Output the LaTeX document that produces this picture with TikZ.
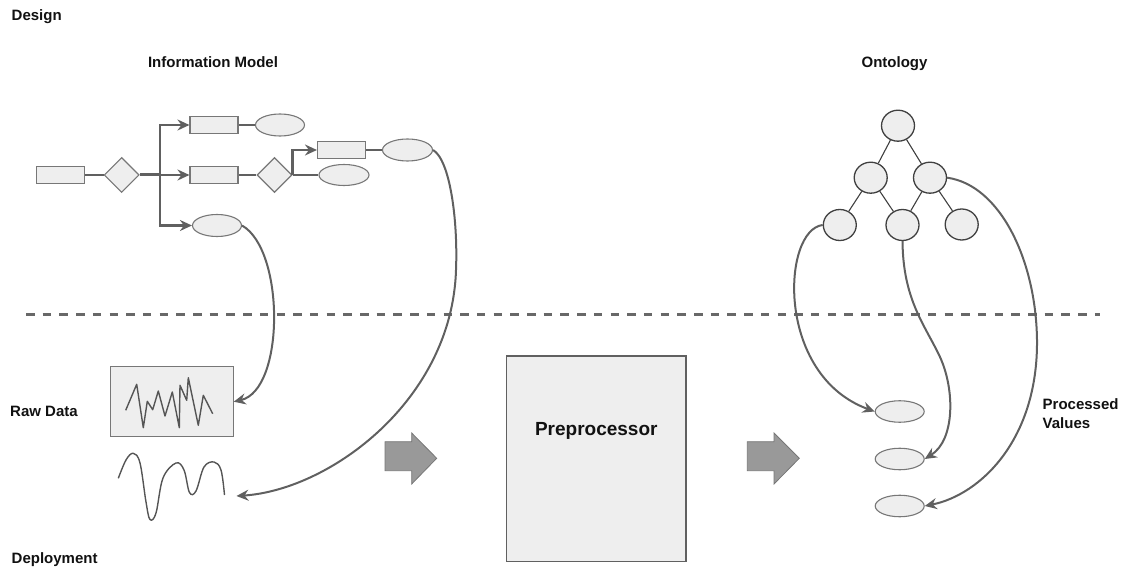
\documentclass[tikz,border=0pt]{standalone}
\usepackage{fontspec}
\setmainfont{Liberation Sans}
\usetikzlibrary{shapes.geometric,arrows.meta}
\definecolor{shapefill}{HTML}{EEEEEE}
\definecolor{rimgray}{HTML}{777777}
\definecolor{linkgray}{HTML}{606060}
\definecolor{treegray}{HTML}{404040}
\definecolor{blockfill}{HTML}{999999}
\definecolor{inkgray}{HTML}{555555}
\definecolor{labelink}{HTML}{111111}
\begin{document}
\begin{tikzpicture}[x=1pt,y=-1pt,
  box/.style={draw=rimgray, fill=shapefill, line width=1.1pt, minimum width=48pt, minimum height=17pt, inner sep=0pt},
  oval/.style={ellipse, draw=rimgray, fill=shapefill, line width=1.1pt, minimum width=49pt, minimum height=22pt, inner sep=0pt},
  choice/.style={diamond, draw=rimgray, fill=shapefill, line width=1.1pt, minimum width=35pt, minimum height=35pt, inner sep=0pt},
  concept/.style={ellipse, draw=treegray, fill=shapefill, line width=1.3pt, minimum width=33pt, minimum height=31pt, inner sep=0pt},
  result/.style={ellipse, draw=rimgray, fill=shapefill, line width=1.1pt, minimum width=49pt, minimum height=21.5pt, inner sep=0pt},
  link/.style={draw=linkgray, line width=2.3pt},
  flow/.style={link, -{Stealth[length=12pt,width=11pt,inset=4pt]}},
  arc/.style={draw=linkgray, line width=2pt, -{Stealth[length=12pt,width=11pt,inset=4pt]}},
  tree/.style={draw=treegray, line width=1.1pt},
  divider/.style={draw=linkgray!95, line width=2.3pt, dash pattern=on 8.5pt off 8.2pt},
  blockarrow/.style={fill=blockfill, draw=rimgray, line width=0.8pt},
  label/.style={font=\fontsize{15}{18}\selectfont\bfseries, text=labelink, inner sep=0pt},
  trace/.style={draw=inkgray, line width=1.4pt, line join=round}
]
\path[use as bounding box] (0,0) rectangle (1127,569);

% section labels
\node[label, anchor=base west] (design) at (11.5,20.5) {Design};
\node[label, anchor=base west] (deploy) at (11.5,563) {Deployment};
\node[label, anchor=base west] (rawlbl) at (10,416.5) {Raw Data};
\node[label, anchor=base] (imlbl) at (213,68) {Information Model};
\node[label, anchor=base] (ontlbl) at (894.5,68) {Ontology};
\node[label, anchor=base west, align=left] (pvlbl) at (1042.5,428.3) {Processed\\[0.5pt]Values};

% design / deployment boundary
\coordinate (dl) at (26,314.5);
\coordinate (dr) at (1100,314.5);
\draw[divider] (dl) -- (dr);

% information model
\node[box] (r0) at (60.5,175) {};
\node[choice] (d1) at (121.7,175) {};
\node[box] (r1) at (214,125) {};
\node[oval] (e1) at (280,125) {};
\node[box] (r2) at (214,175) {};
\node[choice] (d2) at (274.5,175) {};
\node[oval, minimum width=50pt, minimum height=21pt] (e2) at (344,175) {};
\node[box] (r3) at (341.5,150) {};
\node[oval, minimum width=50pt] (e3) at (407.5,150) {};
\node[oval] (e4) at (217,225.5) {};

\coordinate (j) at (160,175);
\draw[link] (r0) -- (d1);
\draw[link, line width=3pt] (d1.east) -- (j);
\draw[flow] (j) |- (r1.west);
\draw[flow] (j) -- (r2.west);
\draw[flow] (j) |- (e4.west);
\draw[link] (r1) -- (e1);
\draw[link] (r2) -- (d2);
\draw[link] (d2) -- (e2);
\draw[flow] (d2.east) |- (r3.west);
\draw[link] (r3) -- (e3);

% ontology
\node[concept] (c0) at (898,125.7) {};
\node[concept] (c1) at (870.7,177.7) {};
\node[concept] (c2) at (930,177.7) {};
\node[concept] (c3) at (839.8,225) {};
\node[concept] (c4) at (902.5,225) {};
\node[concept] (c5) at (961.7,224.5) {};
\draw[tree] (c0) -- (c1);
\draw[tree] (c0) -- (c2);
\draw[tree] (c1) -- (c3);
\draw[tree] (c1) -- (c4);
\draw[tree] (c2) -- (c4);
\draw[tree] (c2) -- (c5);

% raw data
\node[box, minimum width=123pt, minimum height=70pt] (raw) at (171.7,401.7) {};
\draw[trace] plot coordinates {(125.7,410.3) (136.7,384.3) (143.3,427.7) (147.3,401.3) (152.7,409.7) (158.3,391) (165,416) (172.3,392) (179.3,427.7) (180,385.3) (186.7,400.3) (188.3,377.7) (198.3,425.3) (203.3,395.3) (212.7,413.7)};
\draw[trace] plot[smooth, tension=0.6] coordinates {(118.3,478.3) (126,460) (133.3,453.3) (140,463) (146,502) (150,519.5) (156,513) (163,478) (176,463) (184,470) (189.5,492.5) (196,491) (204,467) (214,462) (221,470) (224.5,495)};
\coordinate (sig) at (236.5,496);

% preprocessing stage
\draw[blockarrow] (385,441.7) -- (411.7,441.7) -- (411.7,433) -- (436.7,458.3) -- (411.7,484) -- (411.7,470.7) -- (385,470.7) -- cycle;
\node[box, draw=linkgray, minimum width=179.3pt, minimum height=205.7pt] (pre) at (596.3,458.8) {};
\node[label, font=\fontsize{19}{22}\selectfont\bfseries, anchor=base] (prelbl) at (596.3,435) {Preprocessor};
\draw[blockarrow] (747.3,441.7) -- (774,441.7) -- (774,433) -- (799.3,458.3) -- (774,484) -- (774,470.7) -- (747.3,470.7) -- cycle;

% processed values
\node[result] (p1) at (899.7,411.5) {};
\node[result] (p2) at (899.7,459) {};
\node[result] (p3) at (899.7,506) {};

% mappings from the models to the data
\draw[arc] (e4.east) .. controls (285,250) and (285,390) .. (raw.east);
\draw[arc] (e3.east) .. controls (450,160) and (458,220) .. (456,270) .. controls (452,400) and (330,490) .. (sig);
\draw[arc] (c3.west) .. controls (782,230) and (775,375) .. (p1.west);
\draw[arc] (c4.south) .. controls (903,300) and (925,325) .. (940,357) .. controls (955,390) and (955,440) .. (p2.east);
\draw[arc] (c2.east) .. controls (1000,185) and (1036,260) .. (1037,340) .. controls (1038,440) and (980,495) .. (p3.east);
\end{tikzpicture}
\end{document}
